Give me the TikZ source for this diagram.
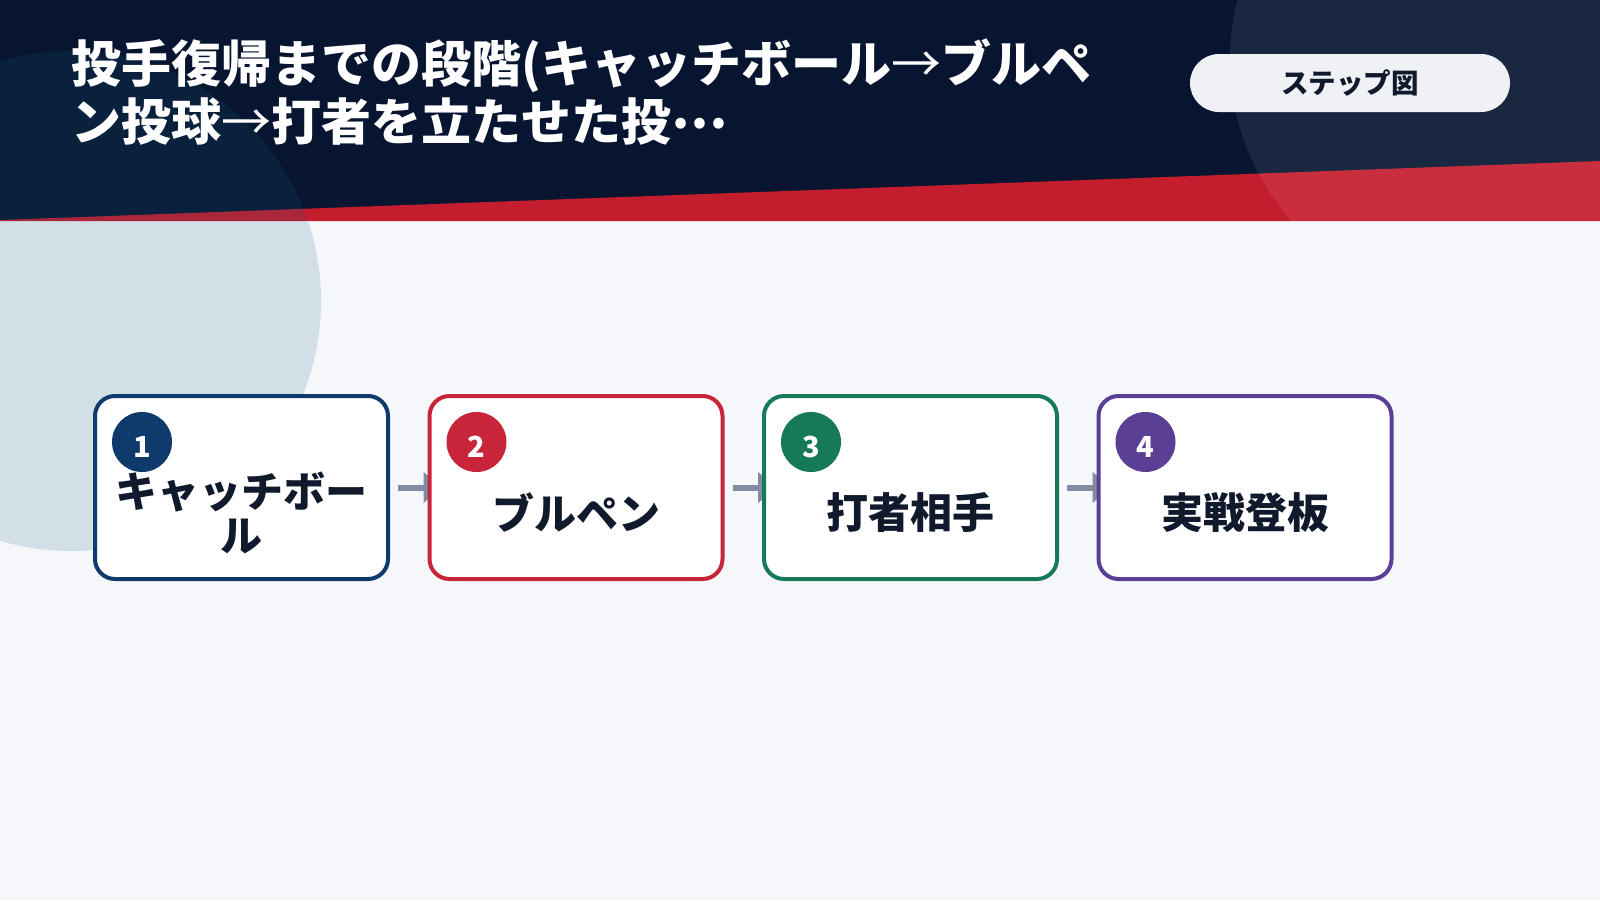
\documentclass[tikz,border=0pt]{standalone}
\usepackage{fontspec}
\setmainfont{Noto Sans CJK JP}
\usetikzlibrary{arrows.meta}
\definecolor{navyc}{HTML}{071530}
\definecolor{bandc}{HTML}{C41D2E}
\definecolor{bgc}{HTML}{F5F7FA}
\definecolor{blobc}{HTML}{1A6386}
\definecolor{pillc}{HTML}{EFF1F4}
\definecolor{inkc}{HTML}{111A2C}
\definecolor{arrowc}{HTML}{7F8CA1}
\definecolor{cone}{HTML}{0E3A6C}
\definecolor{ctwo}{HTML}{C8243A}
\definecolor{cthree}{HTML}{16795A}
\definecolor{cfour}{HTML}{5B3F94}
\pgfdeclarelayer{back}
\pgfdeclarelayer{mid}
\pgfsetlayers{back,mid,main}
\newcommand{\thinarrow}{{\mdseries →}}
\newcommand{\midellip}{\raisebox{0.25em}[0pt][0pt]{…}}
\newcommand{\digit}[1]{\raisebox{-15.5pt}[0pt][0pt]{#1}}
\begin{document}
\begin{tikzpicture}[x=1pt,y=-1pt,
  stepbox/.style={draw=#1, line width=4pt, fill=white, rounded corners=20pt,
    minimum width=293pt, minimum height=183pt, inner sep=0pt, anchor=north west},
  numdot/.style={circle, fill=#1, minimum size=60pt, inner sep=0pt, text=white,
    font=\bfseries\fontsize{29}{29}\selectfont},
  steplabel/.style={text=inkc, font=\bfseries\fontsize{42}{44}\selectfont, align=center, inner sep=0pt},
  flow/.style={draw=arrowc, line width=6pt, -{Triangle[length=18pt,width=30pt]}},
  pill/.style={fill=pillc, rounded corners=29pt, minimum width=320pt, minimum height=58pt,
    inner sep=0pt, text=inkc, font=\bfseries\fontsize{27.5}{27.5}\selectfont},
  titletext/.style={text=white, font=\bfseries\fontsize{50}{58}\selectfont, align=left,
    inner sep=0pt, anchor=north west}]
\useasboundingbox (0,0) rectangle (1600,900);
\begin{pgfonlayer}{back}
  \fill[bgc] (0,0) rectangle (1600,900);
  \fill[navyc] (0,0) rectangle (1600,221);
  \fill[bandc] (0,220) -- (1600,161) -- (1600,221) -- (0,221) -- cycle;
  \fill[blobc, opacity=0.155] (71,301) circle (250pt);
  \fill[white, opacity=0.08] (1470,60) circle (240pt);
\end{pgfonlayer}

\node[titletext] (title) at (71,39) {投手復帰までの段階(キャッチボール\thinarrow ブルペ\\ン投球\thinarrow 打者を立たせた投\midellip};
\node[pill] (tag) at (1350,83) {ステップ図};

\node[stepbox=cone]   (b1) at (93,394)   {};
\node[stepbox=ctwo]   (b2) at (427.5,394)  {};
\node[stepbox=cthree] (b3) at (762,394)  {};
\node[stepbox=cfour]  (b4) at (1096.5,394) {};

\node[numdot=cone]   (n1) at ([xshift=49pt,yshift=-48pt]b1.north west) {\digit{1}};
\node[numdot=ctwo]   (n2) at ([xshift=49pt,yshift=-48pt]b2.north west) {\digit{2}};
\node[numdot=cthree] (n3) at ([xshift=49pt,yshift=-48pt]b3.north west) {\digit{3}};
\node[numdot=cfour]  (n4) at ([xshift=49pt,yshift=-48pt]b4.north west) {\digit{4}};

\node[steplabel] (l1) at ([yshift=-25pt]b1.center) {キャッチボー\\ル};
\node[steplabel] (l2) at ([yshift=-25pt]b2.center) {ブルペン};
\node[steplabel] (l3) at ([yshift=-25pt]b3.center) {打者相手};
\node[steplabel] (l4) at ([yshift=-25pt]b4.center) {実戦登板};

\begin{pgfonlayer}{mid}
  \draw[flow] ([xshift=8pt]b1.east) -- ([xshift=14pt]b2.west);
  \draw[flow] ([xshift=8pt]b2.east) -- ([xshift=14pt]b3.west);
  \draw[flow] ([xshift=8pt]b3.east) -- ([xshift=14pt]b4.west);
\end{pgfonlayer}
\end{tikzpicture}
\end{document}
